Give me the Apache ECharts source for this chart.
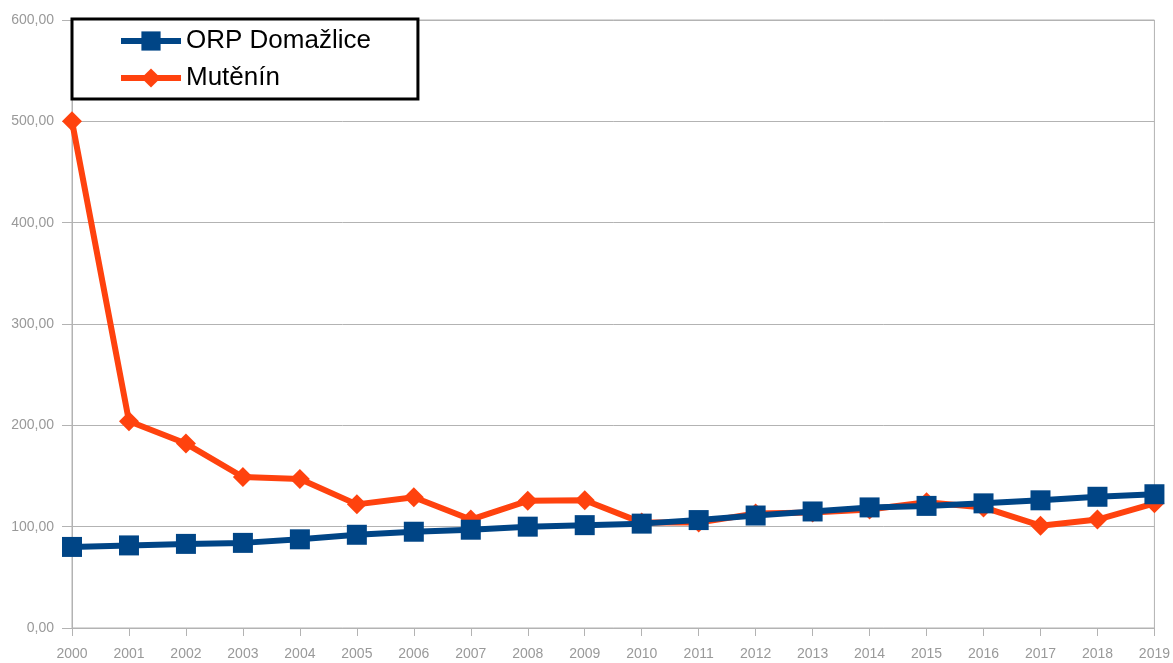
<!DOCTYPE html>
<html>
<head>
<meta charset="utf-8">
<script src="https://cdn.jsdelivr.net/npm/echarts@6/dist/echarts.min.js"></script>
<style>html,body{margin:0;padding:0;background:#fff}#c{width:1173px;height:663px}</style>
</head>
<body>
<div id="c"></div>
<script>
const years = ['2000','2001','2002','2003','2004','2005','2006','2007','2008','2009','2010','2011','2012','2013','2014','2015','2016','2017','2018','2019'];
const orpDomazlice = [80, 81.5, 83, 84, 87.5, 92, 95, 97, 100, 101.5, 103, 106.5, 111, 115, 119, 120.5, 123, 126, 129.5, 132];
const mutenin = [500, 204, 182, 149, 147, 122, 129, 107, 125.5, 126, 104, 104, 113, 114, 117, 124, 119, 101, 107, 123];
const seriesNames = ['ORP Domažlice', 'Mutěnín'];

const chart = echarts.init(document.getElementById('c'), null, {renderer: 'canvas'});
const fontFamily = '"Liberation Sans", Arial, sans-serif';
chart.setOption({
  animation: false,
  backgroundColor: '#fff',
  grid: {left: 72, right: 18, top: 20, bottom: 35, show: true, borderColor: '#b3b3b3', borderWidth: 1},
  legend: {
    orient: 'vertical',
    left: 72, top: 19,
    padding: [9, 47, 8, 46],
    itemGap: 11,
    itemWidth: 60, itemHeight: 24,
    borderColor: '#000', borderWidth: 3,
    backgroundColor: '#fff',
    lineStyle: {width: 6},
    textStyle: {fontSize: 26, color: '#000', fontFamily: fontFamily},
    data: seriesNames
  },
  xAxis: {
    type: 'category', data: years, boundaryGap: false,
    axisLine: {lineStyle: {color: '#b3b3b3'}},
    axisTick: {show: true, length: 8, lineStyle: {color: '#b3b3b3'}},
    axisLabel: {color: '#999', fontSize: 14, fontFamily: fontFamily, margin: 19},
    splitLine: {show: false}
  },
  yAxis: {
    type: 'value', min: 0, max: 600, interval: 100,
    axisLine: {show: true, lineStyle: {color: '#b3b3b3'}},
    axisTick: {show: true, length: 10, lineStyle: {color: '#b3b3b3'}},
    axisLabel: {color: '#999', fontSize: 14, fontFamily: fontFamily, margin: 18,
      formatter: v => v.toFixed(2).replace('.', ',')},
    splitLine: {lineStyle: {color: '#b3b3b3'}}
  },
  series: [
    {name: seriesNames[1], type: 'line', data: mutenin, z: 2,
      symbol: 'diamond', symbolSize: 20, showAllSymbol: true,
      itemStyle: {color: '#ff420e'}, lineStyle: {color: '#ff420e', width: 6}},
    {name: seriesNames[0], type: 'line', data: orpDomazlice, z: 3,
      symbol: 'rect', symbolSize: 20, showAllSymbol: true,
      itemStyle: {color: '#004586'}, lineStyle: {color: '#004586', width: 6}}
  ]
});
</script>
</body>
</html>
